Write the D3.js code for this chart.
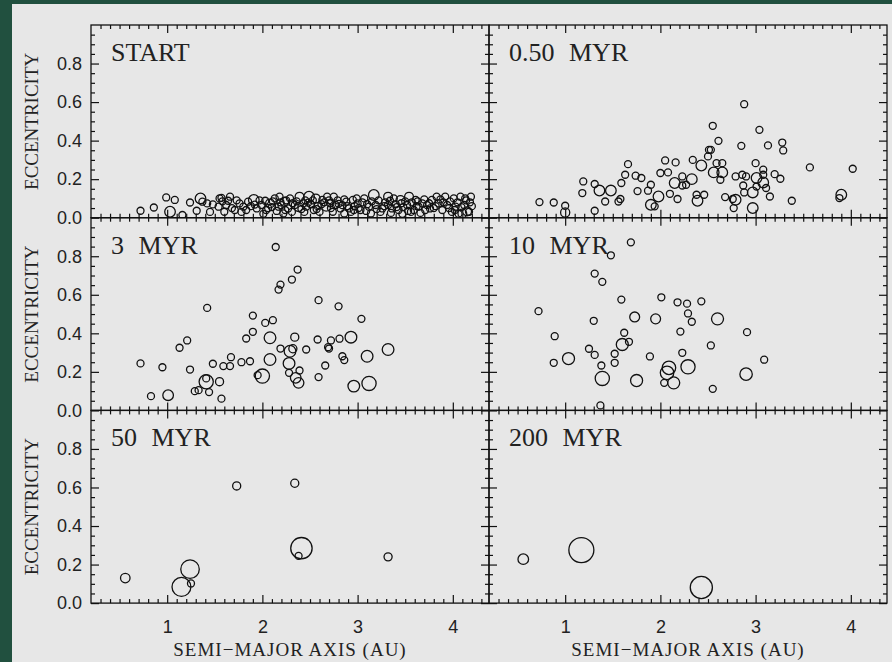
<!DOCTYPE html>
<html>
<head>
<meta charset="utf-8">
<script src="https://cdnjs.cloudflare.com/ajax/libs/d3/7.8.5/d3.min.js"></script>
<style>
  body { margin: 0; background: #21503f; }
  svg { display: block; }
</style>
</head>
<body>
<div id="chart"></div>
<script>
// panel titles in reading order
var panelTitles = ["START", "0.50 MYR", "3 MYR", "10 MYR", "50 MYR", "200 MYR"];
var xTicks = [1, 2, 3, 4];
var yTicks = [0.0, 0.2, 0.4, 0.6, 0.8];

// each point: [semi-major axis (AU), eccentricity, body size class]
var start = [
  [0.72,0.036,1],[0.86,0.053,1],[0.99,0.105,1],[1.08,0.092,1],[1.03,0.031,2],[1.16,0.014,1],
  [1.24,0.079,1],[1.35,0.10,2],[1.31,0.036,1],[1.37,0.083,1],[1.42,0.074,1],[1.48,0.069,1],
  [1.54,0.057,1],[1.55,0.10,1],[1.57,0.103,1],[1.66,0.109,1],[1.62,0.066,1],[1.60,0.031,1],
  [1.71,0.04,1],[1.76,0.074,1],[1.80,0.057,1],[1.85,0.083,1],[1.91,0.092,2],[1.94,0.048,1],
  [1.99,0.066,1],[2.04,0.04,1],[2.08,0.074,1.5],[2.13,0.10,1],[2.18,0.109,1],[2.17,0.057,1],
  [2.23,0.083,1.5],[2.29,0.10,1],[2.27,0.048,1],[2.34,0.066,1],[2.39,0.109,1.5],[2.43,0.074,1],
  [2.22,0.022,1],[2.49,0.109,2],[2.46,0.057,1],[2.56,0.10,1.5],[2.54,0.04,1],[2.63,0.092,1],
  [2.68,0.109,1],[2.67,0.057,1.5],[2.75,0.109,1],[2.77,0.066,1],[2.74,0.031,1],[2.82,0.048,1],
  [2.88,0.083,1],[2.91,0.048,1],[2.95,0.092,1],[3.0,0.074,1],[3.07,0.10,1],[3.03,0.04,1],
  [3.17,0.118,2],[3.12,0.057,1],[3.19,0.066,1],[3.26,0.048,1],[3.32,0.109,1.5],[3.32,0.066,1],
  [2.86,0.022,1],[3.14,0.022,1],[3.38,0.10,1],[3.36,0.048,1],[3.45,0.092,1.5],[3.43,0.04,1],
  [3.54,0.109,1.5],[3.52,0.066,1],[3.61,0.092,1],[3.59,0.04,1],[3.68,0.074,1],[3.71,0.04,1],
  [3.78,0.092,1],[3.83,0.109,1],[3.85,0.074,1],[3.92,0.109,1],[3.94,0.066,1],[4.01,0.10,1],
  [4.03,0.057,1],[4.08,0.109,1],[4.12,0.066,1],[4.19,0.109,1],[4.17,0.031,1],[4.10,0.022,1.5],
  [3.76,0.048,1],[3.64,0.057,1],[4.15,0.033,1.5],
  [1.45,0.03,1],[1.58,0.085,1],[1.68,0.05,1],[1.73,0.09,1],[1.78,0.03,1],[1.88,0.06,1],
  [1.97,0.09,1],[2.01,0.02,1],[2.06,0.05,1],[2.11,0.085,1],[2.15,0.035,1],[2.20,0.065,1],
  [2.25,0.09,1],[2.31,0.03,1],[2.36,0.085,1],[2.41,0.045,1],[2.45,0.09,1],[2.51,0.07,1],
  [2.58,0.06,1],[2.60,0.03,1],[2.65,0.08,1],[2.71,0.075,1],[2.79,0.09,1],[2.84,0.065,1],
  [2.93,0.03,1],[2.97,0.06,1],[3.05,0.08,1],[3.09,0.035,1],[3.15,0.085,1],[3.22,0.09,1],
  [3.24,0.03,1],[3.29,0.08,1],[3.35,0.025,1],[3.40,0.07,1],[3.48,0.055,1],[3.50,0.085,1],
  [3.56,0.03,1],[3.63,0.085,1],[3.66,0.025,1],[3.73,0.065,1],[3.80,0.05,1],[3.87,0.095,1],
  [3.89,0.04,1],[3.97,0.085,1],[3.99,0.03,1],[4.05,0.08,1],[4.14,0.09,1],[4.20,0.06,1],
  [4.06,0.02,1],[3.47,0.02,1],
  [1.64,0.088,1],[1.83,0.04,1],[1.92,0.068,1],[2.03,0.088,1],[2.10,0.055,1],[2.19,0.08,1],
  [2.24,0.04,1],[2.32,0.075,1],[2.38,0.055,1.5],[2.44,0.03,1],[2.48,0.078,1],[2.53,0.09,1],
  [2.57,0.045,1],[2.62,0.07,1],[2.70,0.09,1],[2.72,0.05,1],[2.80,0.072,1],[2.86,0.095,1],
  [2.89,0.06,1],[2.99,0.1,1],[3.01,0.05,1],[3.10,0.07,1],[3.20,0.045,1],[3.28,0.06,1],
  [3.34,0.088,1],[3.41,0.055,1],[3.46,0.075,1],[3.57,0.08,1],[3.62,0.06,1],[3.70,0.095,1],
  [3.75,0.075,1],[3.82,0.06,1],[3.90,0.08,1],[3.96,0.05,1],[4.02,0.04,1],[4.09,0.055,1],
  [4.13,0.1,1],[4.18,0.08,1],[3.53,0.035,1],[2.96,0.04,1]
];

var myr05 = [
  [0.73,0.081,1],[0.88,0.079,1],[1.0,0.062,1],[1.0,0.027,1.6],[1.19,0.188,1],[1.18,0.128,1],
  [1.31,0.175,1],[1.36,0.141,2],[1.31,0.036,1],[1.42,0.084,1],[1.48,0.141,2],[1.56,0.084,1],
  [1.58,0.097,1],[1.59,0.18,1],[1.63,0.223,1],[1.66,0.278,1],[1.74,0.218,1],[1.76,0.138,1],
  [1.80,0.206,1],[1.87,0.14,1],[1.90,0.171,1],[1.90,0.067,2],[1.98,0.11,2],[1.94,0.059,1],
  [2.0,0.232,1],[2.08,0.235,1],[2.05,0.297,1],[2.10,0.124,1],[2.16,0.287,1],[2.15,0.18,2],
  [2.18,0.097,1],[2.23,0.214,1],[2.23,0.167,1],[2.27,0.171,1],[2.33,0.2,2],[2.34,0.30,1],
  [2.38,0.119,1],[2.39,0.088,2],[2.46,0.119,1],[2.43,0.271,2],[2.50,0.318,1],[2.51,0.352,1],
  [2.53,0.352,1],[2.55,0.477,1],[2.61,0.399,1],[2.59,0.283,1],[2.65,0.283,1],[2.56,0.235,2],
  [2.65,0.235,2],[2.63,0.197,1],[2.68,0.107,1],[2.76,0.097,1],[2.79,0.093,2],[2.77,0.05,1],
  [2.79,0.214,1],[2.85,0.373,1],[2.88,0.589,1],[2.86,0.223,1],[2.88,0.131,1],[2.87,0.167,1],
  [2.90,0.214,1],[2.97,0.05,2],[2.97,0.131,2],[3.0,0.283,1],[3.01,0.206,2],[3.01,0.162,1],
  [3.04,0.456,1],[3.08,0.249,1],[3.08,0.223,1],[3.08,0.183,2],[3.11,0.154,1],[3.13,0.375,1],
  [3.15,0.11,1],[3.20,0.226,1],[3.26,0.202,1],[3.28,0.39,1],[3.29,0.349,1],[3.38,0.088,1],
  [3.57,0.261,1],[3.90,0.119,2],[3.88,0.102,1],[4.02,0.254,1]
];

var myr3 = [
  [0.72,0.244,1],[0.83,0.074,1],[0.95,0.224,1],[1.01,0.079,2],[1.13,0.325,1],[1.21,0.363,1],
  [1.24,0.212,1],[1.29,0.10,1],[1.33,0.105,1],[1.42,0.532,1],[1.41,0.149,3],[1.41,0.166,1],
  [1.44,0.095,1],[1.48,0.242,1],[1.55,0.149,1.3],[1.57,0.061,1],[1.59,0.23,1],[1.66,0.23,1],
  [1.67,0.276,1],[1.78,0.25,1],[1.87,0.255,1],[1.83,0.373,1],[1.90,0.408,1],[1.90,0.492,1],
  [2.0,0.178,3],[1.95,0.183,1],[2.03,0.454,1],[2.08,0.377,2.3],[2.08,0.264,2.3],[2.11,0.468,1],
  [2.14,0.848,1],[2.17,0.627,1],[2.19,0.653,1],[2.19,0.321,1],[2.28,0.244,2.3],[2.29,0.307,2.3],
  [2.28,0.195,1],[2.31,0.679,1],[2.37,0.731,1],[2.34,0.38,1.3],[2.32,0.32,1.3],[2.35,0.169,2],
  [2.38,0.143,2],[2.59,0.572,1],[2.80,0.54,1],[3.04,0.475,1],[2.58,0.368,1],[2.72,0.363,1],
  [2.81,0.372,1],[2.93,0.38,2.3],[2.46,0.316,1],[2.69,0.328,1],[2.70,0.321,1],[2.84,0.281,1],
  [2.86,0.261,1],[3.10,0.281,2.3],[3.32,0.316,2.3],[2.66,0.233,1],[2.39,0.207,1],[2.59,0.173,1],
  [2.96,0.126,2.3],[3.12,0.14,3]
];

var myr10 = [
  [0.72,0.515,1],[0.89,0.385,1],[0.88,0.247,1],[1.035,0.269,2.4],[1.25,0.32,1],[1.69,0.872,1],
  [1.48,0.805,1],[1.31,0.71,1],[1.39,0.667,1],[1.59,0.575,1],[2.01,0.587,1],[2.18,0.561,1],
  [2.28,0.554,1],[2.43,0.566,1],[2.29,0.503,1],[2.33,0.46,1],[1.73,0.485,1.8],[1.95,0.475,1.8],
  [2.60,0.475,2.4],[1.30,0.465,1],[2.21,0.409,1],[2.91,0.406,1],[1.62,0.403,1],[1.67,0.356,1],
  [1.60,0.342,2.4],[1.31,0.288,1],[1.52,0.294,1],[1.89,0.28,1],[2.23,0.299,1],[2.53,0.337,1],
  [3.09,0.263,1],[1.38,0.233,1],[1.52,0.247,1],[2.09,0.221,2.8],[2.07,0.195,2.8],[2.29,0.226,3],
  [1.39,0.166,3],[1.75,0.155,2.4],[2.04,0.143,1],[2.14,0.143,2.4],[2.90,0.188,2.5],[2.55,0.112,1],
  [1.37,0.026,1]
];

var myr50 = [
  [0.56,0.13,1.7],[1.15,0.084,4.3],[1.24,0.176,4.2],[1.25,0.102,1],[1.73,0.608,1.3],
  [2.34,0.622,1.3],[2.41,0.285,5],[2.38,0.245,1],[3.32,0.24,1.3]
];

var myr200 = [
  [0.56,0.228,2],[1.17,0.275,6],[2.43,0.081,5.2]
];

var panelData = [start, myr05, myr3, myr10, myr50, myr200];

var width = 892,
  height = 662,
  marginLeft = 91,
  marginTop = 25,
  w = 398,
  h = 192.7;

var svg = d3.select("#chart")
  .append("svg")
  .attr("width", width)
  .attr("height", height);

// grey paper
svg.append("rect")
  .attr("x", 12)
  .attr("y", 4)
  .attr("width", width - 12)
  .attr("height", height - 4)
  .attr("fill", "#e7e7e7");

var x = d3.scaleLinear().domain([0.2, 4.38]).range([0, w]);
var y = d3.scaleLinear().domain([0, 1]).range([h, 0]);
var r = d3.scaleLinear().domain([1, 6]).range([3.5, 12.5]);

var minorX = d3.range(3, 44).map(function(d) { return d / 10; }).filter(function(d) { return d % 1 !== 0; });
var minorY = d3.range(1, 20).map(function(d) { return d / 20; }).filter(function(d) { return Math.round(d * 20) % 4 !== 0; });
var majorY = [0, 0.2, 0.4, 0.6, 0.8];

function tickGroup(g, axis) {
  g.call(axis);
  g.select(".domain").remove();
  g.selectAll(".tick line").attr("stroke", "#111").attr("stroke-width", 1.2);
}

panelData.forEach(function(data, i) {
  var col = i % 2,
    row = Math.floor(i / 2);
  var g = svg.append("g")
    .attr("transform", "translate(" + (marginLeft + col * w) + "," + (marginTop + row * h) + ")");

  g.append("clipPath")
    .attr("id", "clip" + i)
    .append("rect")
    .attr("width", w)
    .attr("height", h);

  // inward ticks on all four sides
  [[minorX, 4], [xTicks, 8]].forEach(function(t) {
    tickGroup(g.append("g").attr("transform", "translate(0," + h + ")"),
      d3.axisBottom(x).tickValues(t[0]).tickSize(-t[1]).tickFormat(""));
    tickGroup(g.append("g"),
      d3.axisTop(x).tickValues(t[0]).tickSize(-t[1]).tickFormat(""));
  });
  [[minorY, 4], [majorY, 8]].forEach(function(t) {
    tickGroup(g.append("g"),
      d3.axisLeft(y).tickValues(t[0]).tickSize(-t[1]).tickFormat(""));
    tickGroup(g.append("g").attr("transform", "translate(" + w + ",0)"),
      d3.axisRight(y).tickValues(t[0]).tickSize(-t[1]).tickFormat(""));
  });

  // tick labels on the outer panels
  if (col === 0) {
    var yl = g.append("g")
      .call(d3.axisLeft(y).tickValues(yTicks).tickSize(0).tickPadding(9).tickFormat(d3.format(".1f")));
    yl.select(".domain").remove();
    yl.selectAll("text")
      .attr("font-family", "Liberation Sans, Arial, sans-serif")
      .attr("font-size", "18px")
      .attr("fill", "#222");

    svg.append("text")
      .attr("transform", "translate(38," + (marginTop + row * h + h / 2) + ") rotate(-90)")
      .attr("text-anchor", "middle")
      .attr("font-family", "Liberation Serif, Times New Roman, serif")
      .attr("font-size", "19px")
      .attr("fill", "#222")
      .text("ECCENTRICITY");
  }
  if (row === 2) {
    var xl = g.append("g")
      .attr("transform", "translate(0," + h + ")")
      .call(d3.axisBottom(x).tickValues(xTicks).tickSize(0).tickPadding(17).tickFormat(d3.format("d")));
    xl.select(".domain").remove();
    xl.selectAll("text")
      .attr("font-family", "Liberation Sans, Arial, sans-serif")
      .attr("font-size", "18px")
      .attr("fill", "#222");

    svg.append("text")
      .attr("x", marginLeft + col * w + w / 2)
      .attr("y", 656)
      .attr("text-anchor", "middle")
      .attr("font-family", "Liberation Serif, Times New Roman, serif")
      .attr("font-size", "19px")
      .attr("letter-spacing", "1px")
      .attr("fill", "#222")
      .text("SEMI\u2212MAJOR AXIS (AU)");
  }

  // the bodies
  g.append("g")
    .attr("clip-path", "url(#clip" + i + ")")
    .selectAll("circle")
    .data(data)
    .enter()
    .append("circle")
    .attr("cx", function(d) { return x(d[0]); })
    .attr("cy", function(d) { return y(d[1]); })
    .attr("r", function(d) { return r(d[2]); })
    .attr("fill", "none")
    .attr("stroke", "#111")
    .attr("stroke-width", 1.3);

  g.append("text")
    .attr("x", 20)
    .attr("y", 36)
    .attr("font-family", "Liberation Serif, Times New Roman, serif")
    .attr("font-size", "26px")
    .attr("word-spacing", "8px")
    .attr("fill", "#222")
    .text(panelTitles[i]);

  // frame
  g.append("rect")
    .attr("width", w)
    .attr("height", h)
    .attr("fill", "none")
    .attr("stroke", "#111")
    .attr("stroke-width", 1.3);
});
</script>
</body>
</html>
